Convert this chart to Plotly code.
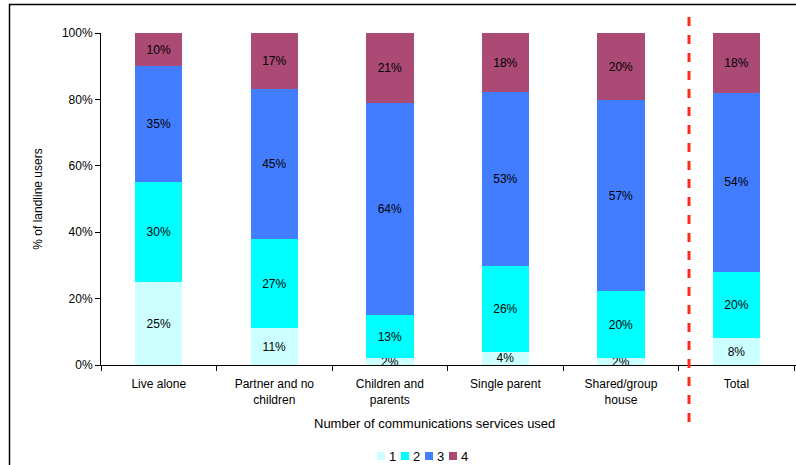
import plotly.graph_objects as go

categories = ["Live alone", "Partner and no<br>children", "Children and<br>parents",
              "Single parent", "Shared/group<br>house", "Total"]
series_names = ["1", "2", "3", "4"]
s1 = [25, 11, 2, 4, 2, 8]
s2 = [30, 27, 13, 26, 20, 20]
s3 = [35, 45, 64, 53, 57, 54]
s4 = [10, 17, 21, 18, 20, 18]
colors = ["#CCFFFF", "#00FFFF", "#427CFF", "#AA4A75"]
y_ticks = [0, 20, 40, 60, 80, 100]
x_title = "Number of communications services used"
y_title = "% of landline users"

W, H = 796, 465
L, T, B = 101, 33, 100
plot_w = W - L
plot_h = H - T - B


def px_x(p):
    return (p - L) / plot_w


def px_y(p):
    return (H - B - p) / plot_h


fig = go.Figure()
for name, vals, col in zip(series_names, [s1, s2, s3, s4], colors):
    fig.add_trace(go.Bar(
        x=categories, y=vals, name=name,
        marker=dict(color=col, line=dict(width=0)),
        text=[f"{v}%" for v in vals],
        textposition="inside", insidetextanchor="middle",
        textfont=dict(color="black", size=12),
        width=0.41, showlegend=False,
    ))

shapes = [
    # outer frame
    dict(type="rect", xref="paper", yref="paper",
         x0=px_x(9.5), x1=px_x(W + 20), y0=px_y(H + 20), y1=px_y(4.5),
         line=dict(color="black", width=1.5), fillcolor="rgba(0,0,0,0)", layer="above"),
    # separator before the total
    dict(type="line", xref="paper", yref="paper",
         x0=px_x(689), x1=px_x(689), y0=px_y(422), y1=px_y(14),
         line=dict(color="#FF2A1A", width=3, dash="dash")),
]

annotations = [
    dict(text=x_title, xref="paper", yref="paper", x=px_x(434), y=px_y(423),
         xanchor="center", yanchor="middle", showarrow=False, font=dict(size=13)),
]

# compact legend row under the axis title
leg_x0, leg_step, leg_y = 377, 24, 456
for i, (name, col) in enumerate(zip(series_names, colors)):
    x = leg_x0 + i * leg_step
    shapes.append(dict(type="rect", xref="paper", yref="paper",
                       x0=px_x(x), x1=px_x(x + 8), y0=px_y(leg_y + 4), y1=px_y(leg_y - 4),
                       fillcolor=col, line=dict(width=0)))
    annotations.append(dict(text=name, xref="paper", yref="paper",
                            x=px_x(x + 10), y=px_y(leg_y), xanchor="left", yanchor="middle",
                            showarrow=False, font=dict(size=13)))

fig.update_layout(
    width=W, height=H,
    barmode="stack", barnorm="percent",
    margin=dict(l=L, r=0, t=T, b=B),
    paper_bgcolor="white", plot_bgcolor="white",
    font=dict(family="Liberation Sans, Arial, sans-serif", size=12, color="black"),
    uniformtext=dict(minsize=12, mode="show"),
    showlegend=False,
    shapes=shapes,
    annotations=annotations,
    xaxis=dict(
        range=[-0.5, 5.515], showline=True, linecolor="black", linewidth=1,
        ticks="outside", tickson="boundaries", ticklen=5, tickcolor="black",
        ticklabelstandoff=8,
        showgrid=False, zeroline=False, automargin=False,
    ),
    yaxis=dict(
        range=[0, 100], tickvals=y_ticks, ticktext=[f"{v}%" for v in y_ticks],
        showline=True, linecolor="black", linewidth=1,
        ticks="outside", ticklen=5, tickcolor="black",
        showgrid=False, zeroline=False, automargin=False,
        title=dict(text=y_title, standoff=16, font=dict(size=12)),
    ),
)

fig.write_html("out.html")
